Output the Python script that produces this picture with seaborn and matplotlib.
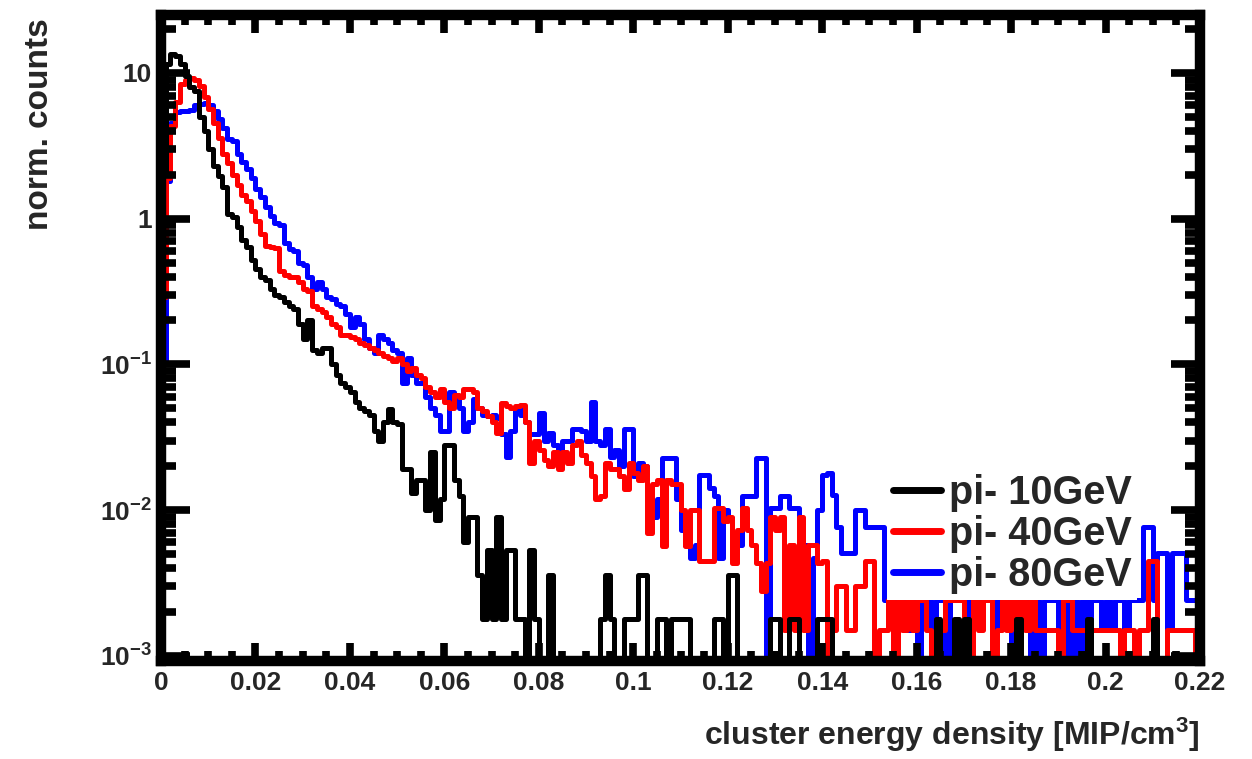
import numpy as np
import pandas as pd
import matplotlib
matplotlib.use("Agg")
import matplotlib.pyplot as plt
import seaborn as sns
from matplotlib.ticker import MultipleLocator, LogLocator, FuncFormatter, NullFormatter
from matplotlib.lines import Line2D

# ---------------- data (normalised counts per 0.001 bin, 0 .. 0.22) ----------------
bin_width = 0.001
n_bins = 220
series_labels = ["pi- 10GeV", "pi- 40GeV", "pi- 80GeV"]
series_colors = ["black", "red", "blue"]

pi10 = [
    2.0, 11.5, 13.5, 13.0, 11.5, 9.5, 8.0, 7.5, 5.0, 4.0,
    3.0, 2.3, 1.95, 1.65, 1.08, 1.03, 0.88, 0.71, 0.64, 0.52,
    0.45, 0.40, 0.38, 0.33, 0.30, 0.29, 0.27, 0.25, 0.24, 0.19,
    0.15, 0.20, 0.125, 0.12, 0.13, 0.13, 0.10, 0.085, 0.075, 0.07,
    0.065, 0.055, 0.05, 0.048, 0.045, 0.035, 0.03, 0.04, 0.049, 0.04,
    0.039, 0.019, 0.019, 0.013, 0.016, 0.016, 0.010, 0.025, 0.0086, 0.012,
    0.028, 0.028, 0.016, 0.0125, 0.006, 0.009, 0.009, 0.0036, 0.0018, 0.0053,
    0.0018, 0.009, 0.0018, 0.0053, 0.0053, 0.0018, 0.0018, 0, 0.0053, 0.0018,
    0, 0, 0.0036, 0, 0, 0, 0, 0, 0, 0,
    0, 0, 0, 0.0018, 0.0036, 0.0018, 0, 0, 0.0018, 0.0018,
    0.0018, 0.0036, 0.0036, 0, 0, 0.0018, 0.0018, 0, 0.0018, 0.0018,
    0.0018, 0.0018, 0, 0, 0, 0, 0, 0.0018, 0.0018, 0,
    0.0036, 0.0036, 0, 0, 0, 0, 0, 0, 0, 0.0018,
    0.0018, 0, 0, 0.0018, 0.0018, 0, 0, 0, 0, 0.0018,
    0.0018, 0.0018, 0, 0, 0, 0, 0, 0, 0, 0,
    0, 0, 0, 0, 0, 0, 0, 0, 0, 0,
    0, 0, 0, 0, 0.0018, 0, 0, 0, 0.0018, 0,
    0.0018, 0, 0, 0, 0, 0, 0, 0, 0, 0,
    0, 0.0018, 0, 0, 0, 0, 0, 0, 0, 0,
    0, 0, 0, 0, 0, 0, 0.0018, 0, 0, 0,
    0, 0, 0, 0, 0, 0, 0, 0, 0, 0,
    0.0018, 0, 0, 0, 0, 0, 0, 0, 0, 0,
]

pi40 = [
    0.29, 1.9, 4.3, 6.3, 8.4, 9.0, 9.2, 9.0, 8.1, 6.8,
    5.7, 4.5, 3.6, 2.8, 2.4, 2.0, 1.7, 1.45, 1.33, 1.13,
    0.97, 0.78, 0.65, 0.64, 0.63, 0.44, 0.41, 0.40, 0.40, 0.37,
    0.33, 0.32, 0.25, 0.24, 0.23, 0.21, 0.19, 0.18, 0.16, 0.16,
    0.155, 0.15, 0.14, 0.135, 0.13, 0.125, 0.12, 0.115, 0.11, 0.105,
    0.11, 0.10, 0.09, 0.095, 0.085, 0.08, 0.07, 0.065, 0.06, 0.068,
    0.055, 0.05, 0.062, 0.06, 0.068, 0.068, 0.065, 0.05, 0.048, 0.044,
    0.04, 0.034, 0.054, 0.052, 0.05, 0.052, 0.053, 0.04, 0.021, 0.03,
    0.026, 0.022, 0.02, 0.025, 0.019, 0.025, 0.021, 0.028, 0.03, 0.024,
    0.021, 0.017, 0.012, 0.0125, 0.021, 0.019, 0.019, 0.017, 0.014, 0.021,
    0.018, 0.016, 0.02, 0.007, 0.015, 0.016, 0.0057, 0.016, 0.015, 0.015,
    0.010, 0.0057, 0.010, 0.010, 0.0045, 0.0045, 0.0045, 0.0103, 0.0103, 0.0084,
    0.009, 0.0043, 0.0073, 0.0103, 0.0073, 0.0058, 0.0043, 0.0028, 0.0043, 0.009,
    0.0073, 0.009, 0.0015, 0.0058, 0.0015, 0.009, 0.0015, 0.0058, 0.0058, 0.0043,
    0.0045, 0, 0.0015, 0.003, 0.003, 0.0015, 0.0015, 0.003, 0.003, 0.0045,
    0.0045, 0, 0.0015, 0.0015, 0.0024, 0, 0.0024, 0.0015, 0.0024, 0.0015,
    0.0024, 0.0024, 0.0015, 0, 0.0015, 0.0015, 0.0024, 0.0024, 0.0024, 0.0024,
    0.0015, 0, 0.0024, 0.0015, 0.0024, 0.0024, 0, 0.0015, 0.0024, 0.0015,
    0.0024, 0, 0.0024, 0.0015, 0.0024, 0.0015, 0.0015, 0.0015, 0.0015, 0.0015,
    0, 0.0024, 0.0024, 0.0015, 0.0015, 0.0015, 0, 0.0015, 0.0015, 0.0015,
    0.0015, 0.0015, 0.0015, 0, 0.0015, 0.0015, 0, 0.0015, 0.0015, 0.0045,
    0.0045, 0, 0, 0.0015, 0.0015, 0.0015, 0.0015, 0.0015, 0.0015, 0,
]

pi80 = [
    0.1, 1.8, 4.5, 5.4, 5.5, 5.5, 5.6, 6.0, 6.1, 6.2,
    6.0, 5.5, 4.8, 4.2, 3.5, 3.4, 2.8, 2.45, 2.2, 1.9,
    1.6, 1.4, 1.2, 1.05, 0.93, 0.9, 0.68, 0.62, 0.6, 0.5,
    0.48, 0.40, 0.33, 0.37, 0.33, 0.29, 0.28, 0.26, 0.25, 0.22,
    0.18, 0.21, 0.19, 0.15, 0.13, 0.12, 0.16, 0.15, 0.14, 0.125,
    0.12, 0.075, 0.11, 0.085, 0.075, 0.075, 0.06, 0.05, 0.045, 0.035,
    0.035, 0.065, 0.06, 0.05, 0.035, 0.04, 0.058, 0.05, 0.045, 0.044,
    0.045, 0.043, 0.033, 0.023, 0.035, 0.05, 0.045, 0.04, 0.033, 0.033,
    0.046, 0.03, 0.034, 0.028, 0.026, 0.03, 0.03, 0.036, 0.036, 0.035,
    0.03, 0.055, 0.03, 0.028, 0.036, 0.023, 0.026, 0.02, 0.036, 0.036,
    0.017, 0.021, 0.02, 0.0075, 0.009, 0.012, 0.0227, 0.0227, 0.0227, 0.012,
    0.0073, 0.0058, 0.0047, 0.0058, 0.0175, 0.0175, 0.0142, 0.0124, 0.0047, 0.0100,
    0.0088, 0.0047, 0.0058, 0.0124, 0.0124, 0.0124, 0.0227, 0.0227, 0, 0.0103,
    0.0103, 0.0124, 0.0124, 0.0103, 0.0103, 0.0058, 0.0058, 0, 0.0047, 0.0100,
    0.0175, 0.018, 0.0127, 0.0077, 0.0051, 0.0051, 0.0051, 0.0100, 0.0100, 0.0077,
    0.0077, 0.0077, 0.0077, 0.0024, 0.0024, 0.0015, 0.0024, 0.0024, 0.0015, 0.0024,
    0, 0.0024, 0.0024, 0, 0.0024, 0.0024, 0, 0.0024, 0.0024, 0.0024,
    0.0024, 0.0015, 0.0024, 0.0024, 0.0024, 0.0024, 0.0015, 0.0024, 0.0024, 0.0024,
    0, 0.0024, 0.0024, 0.0024, 0, 0.0024, 0, 0.0024, 0.0024, 0.0024,
    0, 0.0024, 0, 0.0024, 0, 0.0024, 0, 0.0024, 0.0024, 0.0015,
    0.0024, 0.0015, 0.0024, 0.0024, 0.0015, 0.0024, 0.0024, 0.0024, 0.0077, 0.0077,
    0.0024, 0.0051, 0.0051, 0.0015, 0.0051, 0.0051, 0.0051, 0.0024, 0.0024, 0.0024,
]

x_title = "cluster energy density [MIP/cm$^3$]"
y_title = "norm. counts"

# ---------------- style ----------------
sns.set_theme(style="white")
plt.rcParams["font.family"] = ["Liberation Sans", "DejaVu Sans"]
plt.rcParams["font.weight"] = "bold"
plt.rcParams["mathtext.fontset"] = "custom"
plt.rcParams["mathtext.rm"] = "Liberation Sans:bold"
plt.rcParams["mathtext.it"] = "Liberation Sans:bold"
plt.rcParams["mathtext.bf"] = "Liberation Sans:bold"
plt.rcParams["axes.unicode_minus"] = False

edges = np.arange(n_bins + 1) * bin_width
frames = []
for lab, vals in zip(series_labels, [pi10, pi40, pi80]):
    v = np.clip(np.asarray(vals, dtype=float), 1e-6, None)  # empty bins drawn at the floor
    frames.append(pd.DataFrame({"x": edges, "y": np.append(v, v[-1]), "series": lab}))
df = pd.concat(frames, ignore_index=True)

fig = plt.figure(figsize=(12.52, 7.59), dpi=100)
ax = fig.add_axes([161 / 1252, 1 - 661 / 759, 1039 / 1252, 646 / 759])

# draw order: 80 GeV, 40 GeV, 10 GeV (black on top)
for lab, col in reversed(list(zip(series_labels, series_colors))):
    sns.lineplot(data=df[df["series"] == lab], x="x", y="y", color=col,
                 drawstyle="steps-post", linewidth=3.6, estimator=None,
                 sort=False, ax=ax, legend=False)

ax.set_yscale("log")
ax.set_xlim(0, 0.22)
ax.set_ylim(9.2e-4, 25)

ax.xaxis.set_major_locator(MultipleLocator(0.02))
ax.xaxis.set_minor_locator(MultipleLocator(0.005))
ax.xaxis.set_major_formatter(FuncFormatter(lambda v, p: f"{round(v, 3):g}"))
ax.yaxis.set_major_locator(LogLocator(base=10, numticks=10))
ax.yaxis.set_minor_locator(LogLocator(base=10, subs=np.arange(2, 10), numticks=100))
ax.yaxis.set_minor_formatter(NullFormatter())

def ylab(v, p):
    e = int(round(np.log10(v)))
    if e == 0:
        return "1"
    if e == 1:
        return "10"
    return f"$10^{{{e}}}$"

ax.yaxis.set_major_formatter(FuncFormatter(ylab))

ax.set_axisbelow(False)
for s in ax.spines.values():
    s.set_linewidth(7.5)
    s.set_color("black")
    s.set_zorder(3)

ax.tick_params(axis="x", which="major", direction="in", length=13, width=5.5,
               top=True, bottom=True, labelsize=19, pad=7, color="black")
ax.tick_params(axis="x", which="minor", direction="in", length=7.5, width=5.5,
               top=True, bottom=True, color="black")
ax.tick_params(axis="y", which="major", direction="in", length=21, width=5.5,
               left=True, right=True, labelsize=19, pad=6.5, color="black")
ax.tick_params(axis="y", which="minor", direction="in", length=11, width=5.5,
               left=True, right=True, color="black")
for t in ax.get_xticklabels() + ax.get_yticklabels():
    t.set_fontweight("bold")

ax.set_xlabel(x_title, fontsize=23, fontweight="bold", loc="right")
ax.xaxis.set_label_coords(1.0, -0.084)
ax.xaxis.label.set_va("top")
ax.set_ylabel(y_title, fontsize=24, fontweight="bold", loc="top")
ax.yaxis.set_label_coords(-0.102, 0.995)

handles = [Line2D([0], [0], color=c, lw=5) for c in series_colors]
leg = ax.legend(handles, series_labels, loc="lower left",
                bbox_to_anchor=(0.699, 0.094), frameon=True, facecolor="white",
                edgecolor="none", framealpha=1, fancybox=False,
                prop={"family": "Liberation Sans", "weight": "bold", "size": 28.5},
                handlelength=1.2, handletextpad=0.2, labelspacing=0.08,
                borderpad=0.15, borderaxespad=0)
leg.set_zorder(5)

fig.savefig("out.png", dpi=100)
